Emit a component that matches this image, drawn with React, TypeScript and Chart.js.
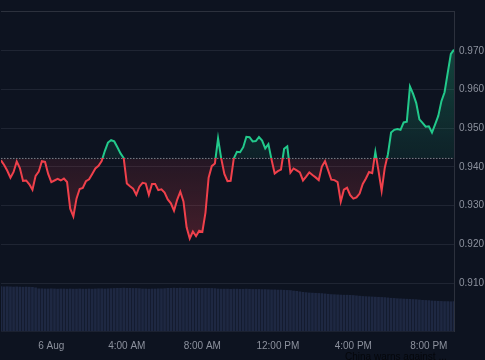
import React, { useEffect, useRef } from "react";
import { Chart, registerables } from "chart.js";

Chart.register(...registerables);

// Time axis: hours relative to 00:00 on 6 Aug, one point every 10 minutes
const START_HOUR = -8 / 3; // 21:20 on 5 Aug
const STEP_HOURS = 1 / 6;
const BASELINE = 0.9422;

const PRICE = [
  0.9417, 0.9405, 0.939, 0.9372, 0.9387, 0.9414, 0.9397, 0.9364, 0.9365, 0.9355,
  0.9341, 0.9377, 0.9388, 0.9415, 0.9413, 0.9382, 0.9361, 0.9365, 0.9369, 0.9365,
  0.937, 0.9361, 0.9292, 0.9272, 0.9318, 0.9343, 0.9346, 0.9363, 0.9368, 0.9382,
  0.9396, 0.9403, 0.9415, 0.9441, 0.9463, 0.9469, 0.9466, 0.9451, 0.9435, 0.9423,
  0.9357, 0.935, 0.9344, 0.9328, 0.9349, 0.9359, 0.9357, 0.9328, 0.9356, 0.9356,
  0.934, 0.9342, 0.9334, 0.9316, 0.9306, 0.9287, 0.9315, 0.9336, 0.9311, 0.9244,
  0.9215, 0.9233, 0.9221, 0.9235, 0.9232, 0.9282, 0.9372, 0.9402, 0.9409, 0.9474,
  0.9422, 0.9382, 0.9363, 0.9364, 0.9422, 0.9439, 0.9438, 0.9451, 0.9478, 0.9477,
  0.9466, 0.9467, 0.9477, 0.9468, 0.9448, 0.9459, 0.9419, 0.9383, 0.9389, 0.9393,
  0.9447, 0.9453, 0.9385, 0.9396, 0.9391, 0.9386, 0.9365, 0.9375, 0.9386, 0.9379,
  0.9373, 0.9366, 0.9401, 0.9415, 0.9391, 0.9367, 0.9366, 0.9361, 0.931, 0.9341,
  0.9346, 0.9327, 0.9318, 0.9321, 0.9331, 0.9356, 0.937, 0.9387, 0.9384, 0.9439,
  0.939, 0.9338, 0.9398, 0.9433, 0.9489, 0.9496, 0.9498, 0.9496, 0.9515, 0.9517,
  0.9608, 0.9589, 0.9565, 0.9523, 0.9514, 0.9504, 0.9505, 0.9489, 0.951, 0.9532,
  0.957, 0.9593, 0.9643, 0.9692, 0.9703,
];

const VOLUME = [
  13.95, 13.9, 13.95, 13.9, 13.85, 13.9, 13.85, 13.8, 13.85, 13.8, 13.75, 13.6,
  13.3, 13.3, 13.25, 13.25, 13.3, 13.25, 13.2, 13.25, 13.25, 13.2, 13.25, 13.2, 13.2,
  13.25, 13.2, 13.2, 13.25, 13.2, 13.25, 13.3, 13.3, 13.25, 13.3, 13.35, 13.4,
  13.45, 13.45, 13.5, 13.45, 13.45, 13.4, 13.4, 13.35,
  13.25, 13.25, 13.2, 13.25, 13.25, 13.3, 13.3, 13.35,
  13.45, 13.45, 13.5, 13.45, 13.5, 13.45, 13.45, 13.45, 13.4, 13.45, 13.45, 13.4, 13.45, 13.4, 13.4, 13.35,
  13.25, 13.2, 13.2, 13.2, 13.15, 13.2, 13.2, 13.15, 13.15, 13.2, 13.15, 13.1, 13.1, 13.1, 13.05, 13.05,
  13.0, 12.95, 12.95, 12.9, 12.9, 12.85, 12.8, 12.75, 12.6, 12.5, 12.35,
  12.2, 12.1, 12.0, 11.95, 11.9, 11.85, 11.8, 11.7, 11.6,
  11.5, 11.45, 11.4, 11.35, 11.3, 11.3, 11.25, 11.2, 11.1, 11.0,
  10.9, 10.85, 10.8, 10.75, 10.7, 10.65, 10.6, 10.55, 10.45,
  10.35, 10.3, 10.2, 10.15, 10.1, 10.05, 10.0, 9.95, 9.9, 9.8,
  9.7, 9.65, 9.6, 9.5, 9.45, 9.4, 9.35, 9.3, 9.3, 9.25, 9.3,
];

const PRICE_TICKS = [0.91, 0.92, 0.93, 0.94, 0.95, 0.96, 0.97];
const TIME_TICKS = [0, 4, 8, 12, 16, 20];
const TIME_LABELS = ["6 Aug", "4:00 AM", "8:00 AM", "12:00 PM", "4:00 PM", "8:00 PM"];

const BG = "#0d1320";
const GREEN = "#22c98b";
const RED = "#f0404b";
const GRID = "#1f2533";
const BORDER = "#2c313d";
const TEXT = "#8c919d";

export default function App() {
  const ref = useRef<HTMLCanvasElement | null>(null);

  useEffect(() => {
    const canvas = ref.current;
    if (!canvas) return;
    Chart.defaults.font.family = "'Liberation Sans', Arial, sans-serif";
    Chart.defaults.font.size = 10;
    Chart.defaults.color = TEXT;

    const times = PRICE.map((_, i) => START_HOUR + i * STEP_HOURS);
    const endHour = times[times.length - 1];

    const splitColor = (ctx: any) => {
      const chart = ctx.chart;
      const area = chart.chartArea;
      const y = chart.scales && chart.scales.y;
      if (!area || !y) return GREEN;
      const py = y.getPixelForValue(BASELINE);
      const f = Math.min(1, Math.max(0, (py - area.top) / (area.bottom - area.top)));
      const g = chart.ctx.createLinearGradient(0, area.top, 0, area.bottom);
      g.addColorStop(0, GREEN);
      g.addColorStop(f, GREEN);
      g.addColorStop(f, RED);
      g.addColorStop(1, RED);
      return g;
    };

    const chart = new Chart(canvas, {
      type: "line",
      data: {
        datasets: [
          {
            type: "line",
            data: PRICE.map((v, i) => ({ x: times[i], y: v })),
            borderColor: splitColor,
            borderWidth: 2,
            pointRadius: 0,
            tension: 0,
            fill: { target: { value: BASELINE }, above: "rgba(34,201,139,0.2)", below: "rgba(240,64,75,0.2)" },
            yAxisID: "y",
            order: 1,
          } as any,
          {
            type: "line",
            data: [
              { x: START_HOUR, y: BASELINE },
              { x: endHour, y: BASELINE },
            ],
            borderColor: "rgba(150,155,165,0.8)",
            borderWidth: 1,
            borderDash: [1.5, 1.5],
            pointRadius: 0,
            fill: false,
            yAxisID: "y",
            order: 2,
          } as any,
          {
            type: "bar",
            data: VOLUME.map((v, i) => ({ x: times[i], y: v })),
            backgroundColor: "#1e2842",
            barPercentage: 1,
            categoryPercentage: 0.85,
            yAxisID: "yVol",
            order: 3,
          } as any,
        ],
      },
      options: {
        animation: false,
        responsive: false,
        maintainAspectRatio: false,
        events: [],
        layout: { padding: 0 },
        plugins: { legend: { display: false }, tooltip: { enabled: false } },
        scales: {
          x: {
            type: "linear",
            position: "bottom",
            min: START_HOUR,
            max: endHour,
            offset: false,
            afterBuildTicks: (axis: any) => {
              axis.ticks = TIME_TICKS.map((v) => ({ value: v }));
            },
            afterFit: (axis: any) => {
              axis.height = 29;
            },
            ticks: {
              autoSkip: false,
              maxRotation: 0,
              padding: 9,
              color: TEXT,
              callback: (v: any) => {
                const idx = TIME_TICKS.indexOf(Number(v));
                return idx >= 0 ? TIME_LABELS[idx] : "";
              },
            },
            grid: { display: false, drawTicks: false },
            border: { display: true, color: "#1b2130" },
          },
          xTop: {
            type: "linear",
            position: "top",
            display: true,
            afterFit: (axis: any) => {
              axis.height = 8;
            },
            ticks: { display: false },
            grid: { display: true, color: "rgba(0,0,0,0)", drawTicks: false },
            border: { display: true, color: BORDER },
          },
          y: {
            type: "linear",
            position: "right",
            min: 0.8976,
            max: 0.9803,
            afterBuildTicks: (axis: any) => {
              axis.ticks = PRICE_TICKS.map((v) => ({ value: v }));
            },
            afterFit: (axis: any) => {
              axis.width = 31;
            },
            ticks: {
              padding: 5,
              color: TEXT,
              callback: (v: any) => Number(v).toFixed(3),
            },
            grid: { color: GRID, drawTicks: false },
            border: { display: true, color: BORDER },
          },
          yVol: {
            type: "linear",
            display: false,
            min: 0,
            max: 100,
          },
        },
      } as any,
    });

    const area = chart.chartArea;
    const py = chart.scales.y.getPixelForValue(BASELINE);
    const c2 = chart.ctx;
    const up = c2.createLinearGradient(0, area.top, 0, py);
    up.addColorStop(0, "rgba(34,201,139,0.34)");
    up.addColorStop(1, "rgba(34,201,139,0.08)");
    const down = c2.createLinearGradient(0, py, 0, area.bottom);
    down.addColorStop(0, "rgba(240,64,75,0.1)");
    down.addColorStop(1, "rgba(240,64,75,0.4)");
    (chart.data.datasets[0] as any).fill = { target: { value: BASELINE }, above: up, below: down };
    chart.update();

    return () => chart.destroy();
  }, []);

  return (
    <div
      style={{
        position: "fixed",
        left: 0,
        top: 0,
        width: 485,
        height: 360,
        background: BG,
        overflow: "hidden",
      }}
    >
      <canvas ref={ref} width={485} height={360} style={{ display: "block" }} />
      <div
        style={{
          position: "absolute",
          left: 345,
          top: 351,
          font: "10px 'Liberation Sans', Arial, sans-serif",
          color: "#05070b",
          whiteSpace: "nowrap",
        }}
      >
        China warns against ...
      </div>
    </div>
  );
}
